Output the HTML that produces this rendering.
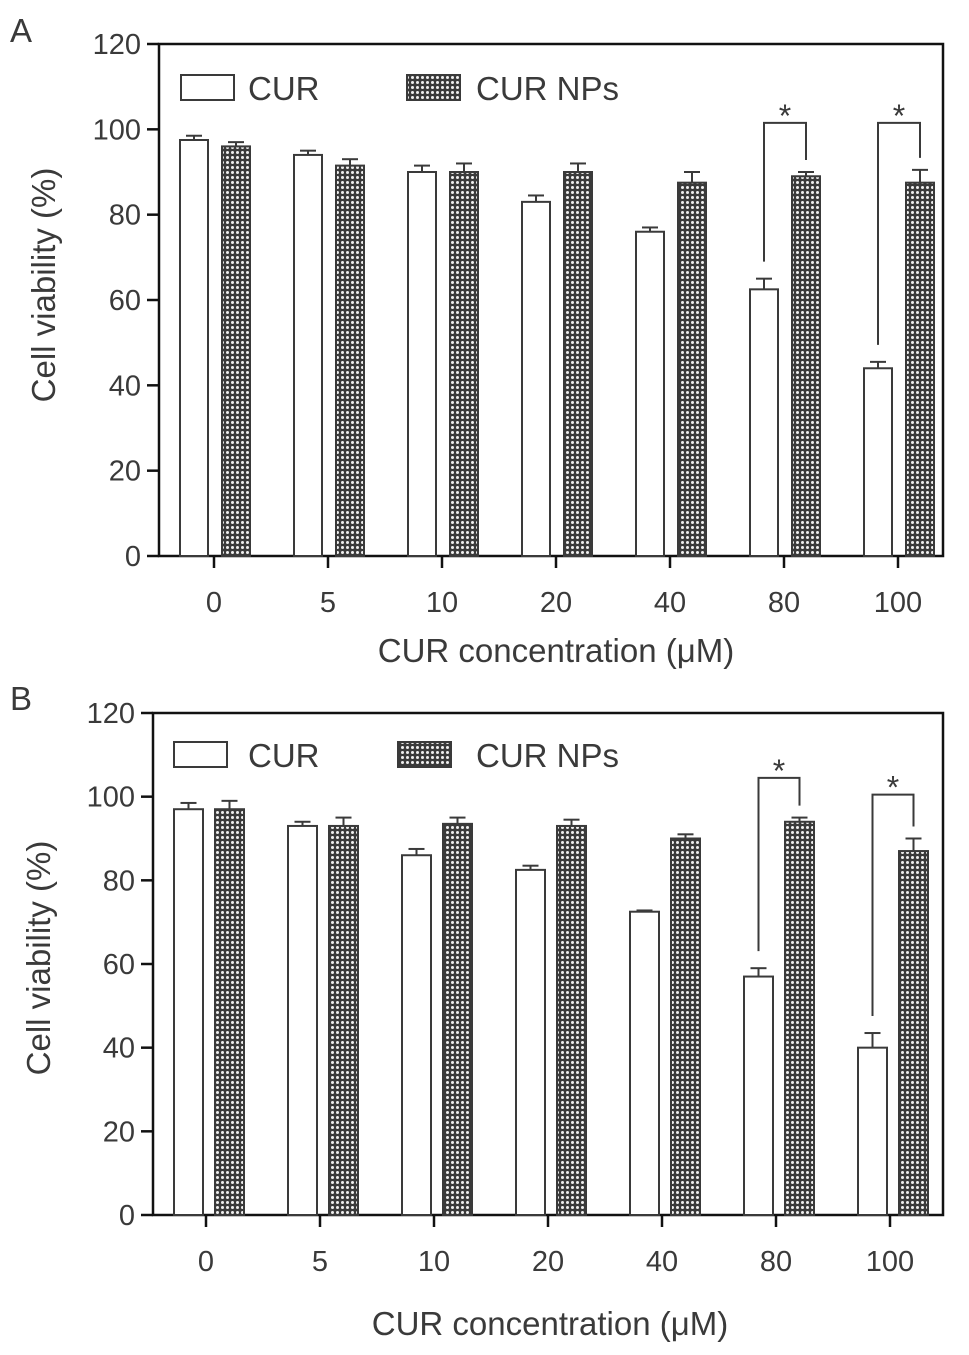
<!DOCTYPE html>
<html><head><meta charset="utf-8"><style>
html,body{margin:0;padding:0;background:#fff;}
svg{display:block;font-family:"Liberation Sans",sans-serif;}
</style></head><body>
<svg id="chart" width="969" height="1355" viewBox="0 0 969 1355" xmlns="http://www.w3.org/2000/svg">
<defs>
<pattern id="dots" width="5" height="5" patternUnits="userSpaceOnUse">
<rect width="5" height="5" fill="#3a3a3a"/>
<circle cx="2.5" cy="2.5" r="1.5" fill="#eeeeee"/>
</pattern>
</defs>
</svg>
<script>
const categories = ["0","5","10","20","40","80","100"];
const yTicks = [0,20,40,60,80,100,120];
const curA = [97.5,94,90,83,76,62.5,44];
const curErrA = [1,1,1.5,1.5,1,2.5,1.5];
const npA = [96,91.5,90,90,87.5,89,87.5];
const npErrA = [1,1.5,2,2,2.5,1,3];
const curB = [97,93,86,82.5,72.5,57,40];
const curErrB = [1.5,1,1.5,1,0.3,2,3.5];
const npB = [97,93,93.5,93,90,94,87];
const npErrB = [2,2,1.5,1.5,1,1,3];
const sigA = [{i:5,top:101.5},{i:6,top:101.5}];
const sigB = [{i:5,top:104.5},{i:6,top:100.5}];

const svg = document.getElementById('chart');
const NS = 'http://www.w3.org/2000/svg';
function mk(tag, attrs, parent){const e=document.createElementNS(NS,tag);for(const k in attrs)e.setAttribute(k,attrs[k]);(parent||svg).appendChild(e);return e;}
const C = '#3a3a3a';

function panel(p){
  const g = mk('g',{});
  
  
  const y = v => p.y0 + (p.y120 - p.y0) * v / 120;
  const xc = i => p.c0 + i * p.step;
  let t = mk('text',{x:10,y:p.letterY,'font-size':33,fill:C},g); t.textContent=p.id;
   
  const fr = mk('rect',{x:p.left,y:p.y120,width:p.right-p.left,height:p.y0-p.y120,fill:'none',stroke:'#111','stroke-width':2.5},g);
   
  yTicks.forEach(v=>{
    mk('line',{x1:p.left-12,x2:p.left,y1:y(v),y2:y(v),stroke:'#111','stroke-width':2.5},g);
    const tl = mk('text',{x:p.left-18,y:y(v)+10,'font-size':29,'text-anchor':'end',fill:C},g);
    tl.textContent=v;
     
  });
  categories.forEach((c,i)=>{
    const cx = xc(i);
    [[p.cur[i],p.curErr[i],cx-p.off1,'#fff','bar-cur-'+c],[p.np[i],p.npErr[i],cx+p.off2,'url(#dots)','bar-np-'+c]].forEach(([v,e,x,f,n])=>{
      const top=y(v);
      mk('line',{x1:x+p.bw/2,x2:x+p.bw/2,y1:top,y2:y(v+e),stroke:C,'stroke-width':2},g);
      mk('line',{x1:x+p.bw/2-8,x2:x+p.bw/2+8,y1:y(v+e),y2:y(v+e),stroke:C,'stroke-width':2},g);
      const r = mk('rect',{x:x,y:top,width:p.bw,height:p.y0-top,fill:f,stroke:C,'stroke-width':2},g);
       
    });
    mk('line',{x1:cx,x2:cx,y1:p.y0,y2:p.y0+12,stroke:'#111','stroke-width':2.5},g);
    const xl = mk('text',{x:cx,y:p.y0+56,'font-size':29,'text-anchor':'middle',fill:C},g);
    xl.textContent=c;
     
  });
  p.sig.forEach(s=>{
    const i=s.i, cx=xc(i);
    const xl=cx-p.off1+p.bw/2, xr=cx+p.off2+p.bw/2;
    const yt=y(s.top);
    const yl=y(p.cur[i]+p.curErr[i])-17, yr=y(p.np[i]+p.npErr[i])-12;
    const pl = mk('polyline',{points:`${xl},${yl} ${xl},${yt} ${xr},${yt} ${xr},${yr}`,fill:'none',stroke:C,'stroke-width':2},g);
     
    const st = mk('text',{x:(xl+xr)/2,y:yt+4,'font-size':32,'text-anchor':'middle',fill:C},g);
    st.textContent='*';
     
  });
  const l1 = mk('rect',{x:p.lx1,y:p.ly,width:53,height:25,fill:'#fff',stroke:C,'stroke-width':2},g);
   
  t = mk('text',{x:248,y:p.ly+25,'font-size':33,fill:C},g); t.textContent='CUR';
   
  const l2 = mk('rect',{x:p.lx2,y:p.ly,width:53,height:25,fill:'url(#dots)',stroke:C,'stroke-width':2},g);
   
  t = mk('text',{x:476,y:p.ly+25,'font-size':33,fill:C},g); t.textContent='CUR NPs';
   
  t = mk('text',{x:p.xtX,y:p.xtY,'font-size':33,'text-anchor':'middle',fill:C},g); t.textContent='CUR concentration (\u03bcM)';
   
  const ym=p.ytY;
  t = mk('text',{x:p.ytX,y:ym,'font-size':33,'text-anchor':'middle',fill:C,transform:`rotate(-90 ${p.ytX} ${ym})`},g); t.textContent='Cell viability (%)';
   
}

panel({id:'A',letterY:42,left:159,right:943,y0:556,y120:44,c0:214,step:114,off1:34,off2:8,bw:28,
  cur:curA,curErr:curErrA,np:npA,npErr:npErrA,sig:sigA,lx1:181,lx2:407,ly:75,xtX:556,xtY:662,ytX:55,ytY:285});
panel({id:'B',letterY:710,left:153,right:943,y0:1215,y120:713,c0:206,step:114,off1:32,off2:9,bw:29,
  cur:curB,curErr:curErrB,np:npB,npErr:npErrB,sig:sigB,lx1:174,lx2:398,ly:742,xtX:550,xtY:1335,ytX:50,ytY:958});
</script>
</body></html>
